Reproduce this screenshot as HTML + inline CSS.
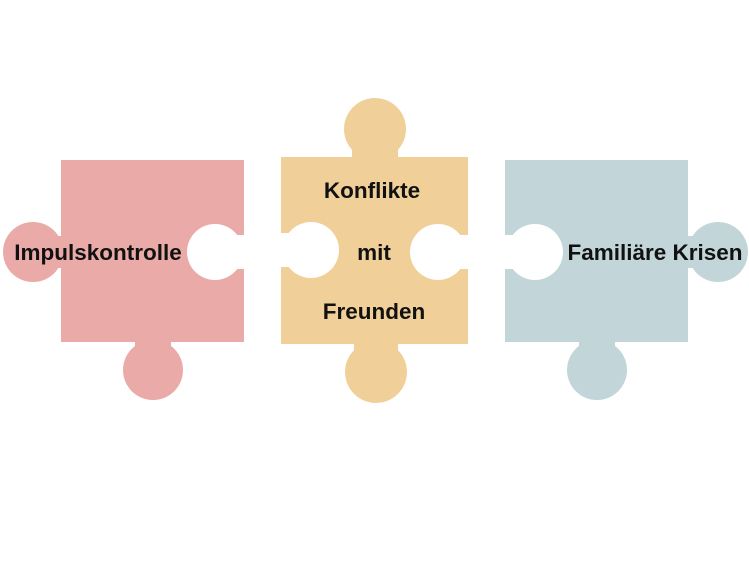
<!DOCTYPE html>
<html><head><meta charset="utf-8"><style>
body{margin:0;width:749px;height:562px;background:#fff;overflow:hidden}
text{font-family:"Liberation Sans",sans-serif;font-weight:bold;font-size:22.5px;fill:#111}
</style></head><body>
<svg width="749" height="562" viewBox="0 0 749 562">
<defs>
<mask id="m1"><rect width="749" height="562" fill="#fff"/><circle cx="215" cy="252" r="28" fill="#000"/><rect x="215" y="235" width="35" height="34" fill="#000"/></mask>
<mask id="m2"><rect width="749" height="562" fill="#fff"/><circle cx="311" cy="250" r="28" fill="#000"/><rect x="275" y="233" width="36" height="34" fill="#000"/><circle cx="438" cy="252" r="28" fill="#000"/><rect x="438" y="235" width="35" height="34" fill="#000"/></mask>
<mask id="m3"><rect width="749" height="562" fill="#fff"/><circle cx="535" cy="252" r="28" fill="#000"/><rect x="499" y="235" width="36" height="34" fill="#000"/></mask>
</defs>
<g fill="#e9aaa8" mask="url(#m1)">
<rect x="61" y="160" width="183" height="182"/>
<circle cx="33" cy="252" r="30"/><rect x="40" y="236" width="24" height="32"/>
<circle cx="153" cy="370" r="30"/><rect x="135" y="335" width="36" height="20"/>
</g>
<g fill="#f0d098" mask="url(#m2)">
<rect x="281" y="157" width="187" height="187"/>
<circle cx="375" cy="129" r="31"/><rect x="352" y="145" width="46" height="15"/>
<circle cx="376" cy="372" r="31"/><rect x="354" y="338" width="44" height="20"/>
</g>
<g fill="#c2d5d9" mask="url(#m3)">
<rect x="505" y="160" width="183" height="182"/>
<circle cx="718" cy="252" r="30"/><rect x="684" y="236" width="24" height="32"/>
<circle cx="597" cy="370" r="30"/><rect x="579" y="335" width="36" height="20"/>
</g>
<text x="98" y="260" text-anchor="middle">Impulskontrolle</text>
<text x="372" y="198" text-anchor="middle">Konflikte</text>
<text x="374" y="260" text-anchor="middle">mit</text>
<text x="374" y="319" text-anchor="middle">Freunden</text>
<text x="655" y="260" text-anchor="middle">Familiäre Krisen</text>
</svg>
</body></html>
